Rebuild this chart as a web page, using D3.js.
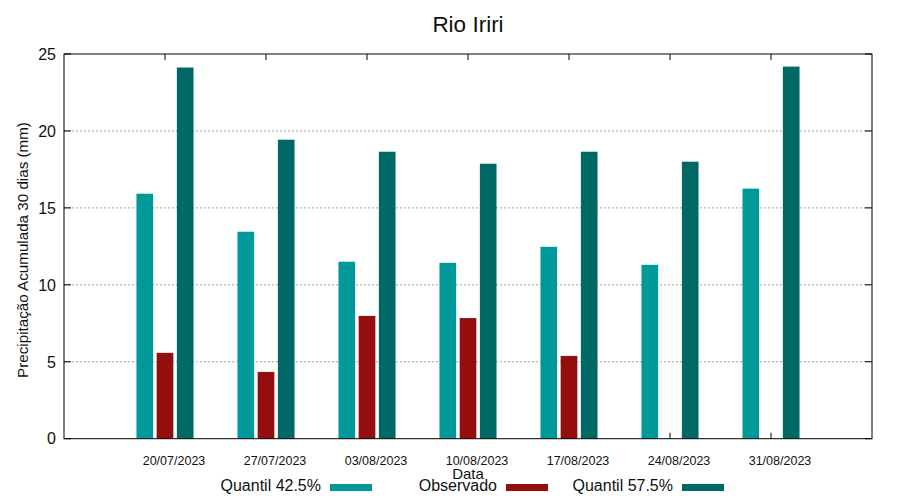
<!DOCTYPE html>
<html>
<head>
<meta charset="utf-8">
<script src="https://cdn.jsdelivr.net/npm/d3@7"></script>
<style>
  body { margin: 0; background: #fff; }
  svg { font-family: "Liberation Sans", Arial, sans-serif; }
</style>
</head>
<body>
<svg id="chart" width="900" height="500"></svg>
<script>
const categories = ["20/07/2023", "27/07/2023", "03/08/2023", "10/08/2023", "17/08/2023", "24/08/2023", "31/08/2023"];
const quantil425 = [15.92, 13.45, 11.5, 11.43, 12.47, 11.3, 16.25];
const observado = [5.58, 4.34, 7.98, 7.84, 5.38, null, null];
const quantil575 = [24.12, 19.43, 18.65, 17.87, 18.65, 18.0, 24.18];
const seriesNames = ["Quantil 42.5%", "Observado", "Quantil 57.5%"];
const seriesColors = ["#009999", "#940e0e", "#006966"];
const yTicks = [0, 5, 10, 15, 20, 25];

const svg = d3.select("#chart");
const m = { left: 64, right: 872, top: 54, bottom: 438.7 };

const x = d3.scaleLinear().domain([0, categories.length + 1]).range([m.left, m.right]);
const y = d3.scaleLinear().domain([0, 25]).range([m.bottom, m.top]);

const step = x(1) - x(0);
const barW = step * 0.165;
const offsets = [-0.2, 0, 0.2];

// Grid lines
svg.append("g").selectAll("line")
  .data(yTicks.filter(t => t > 0 && t < 25))
  .join("line")
  .attr("x1", m.left).attr("x2", m.right)
  .attr("y1", d => y(d)).attr("y2", d => y(d))
  .attr("stroke", "#a0a0a0").attr("stroke-width", 1)
  .attr("stroke-dasharray", "2,2");

// Ticks (inward, mirrored)
const tickG = svg.append("g").attr("stroke", "#000").attr("stroke-width", 1);
yTicks.forEach(t => {
  tickG.append("line").attr("x1", m.left).attr("x2", m.left + 7).attr("y1", y(t)).attr("y2", y(t));
  tickG.append("line").attr("x1", m.right).attr("x2", m.right - 7).attr("y1", y(t)).attr("y2", y(t));
});
categories.forEach((c, i) => {
  tickG.append("line").attr("x1", x(i + 1)).attr("x2", x(i + 1)).attr("y1", m.bottom).attr("y2", m.bottom - 6);
  tickG.append("line").attr("x1", x(i + 1)).attr("x2", x(i + 1)).attr("y1", m.top).attr("y2", m.top + 6);
});

// Bars
const allSeries = [quantil425, observado, quantil575];
allSeries.forEach((vals, s) => {
  svg.append("g").selectAll("rect")
    .data(vals.map((v, i) => ({ v, i })).filter(d => d.v !== null))
    .join("rect")
    .attr("x", d => x(d.i + 1 + offsets[s]) - barW / 2)
    .attr("width", barW)
    .attr("y", d => y(d.v))
    .attr("height", d => y(0) - y(d.v))
    .attr("fill", seriesColors[s]);
});

// Frame
svg.append("rect")
  .attr("x", m.left).attr("y", m.top)
  .attr("width", m.right - m.left).attr("height", m.bottom - m.top)
  .attr("fill", "none").attr("stroke", "#000").attr("stroke-width", 1);

// Y tick labels
svg.append("g").selectAll("text")
  .data(yTicks).join("text")
  .attr("x", 56).attr("y", d => y(d))
  .attr("dy", "0.36em")
  .attr("text-anchor", "end")
  .attr("font-size", 16)
  .attr("fill", "#111")
  .text(d => d);

// X tick labels (shifted right of the tick, as in the reference)
svg.append("g").selectAll("text")
  .data(categories).join("text")
  .attr("x", (d, i) => x(i + 1) + 9).attr("y", 465)
  .attr("text-anchor", "middle")
  .attr("font-size", 12.5)
  .attr("fill", "#111")
  .text(d => d);

// Axis titles
svg.append("text")
  .attr("x", x((categories.length + 1) / 2)).attr("y", 479)
  .attr("text-anchor", "middle").attr("font-size", 15).attr("fill", "#111")
  .text("Data");

svg.append("text")
  .attr("transform", `translate(28, 250) rotate(-90)`)
  .attr("text-anchor", "middle").attr("font-size", 15.2).attr("fill", "#111")
  .text("Precipitação Acumulada 30 dias (mm)");

// Title
svg.append("text")
  .attr("x", (m.left + m.right) / 2).attr("y", 32)
  .attr("text-anchor", "middle").attr("font-size", 22.5).attr("fill", "#111")
  .text("Rio Iriri");

// Legend
const legendTextEnd = [321, 497, 673];
const legend = svg.append("g");
seriesNames.forEach((n, s) => {
  legend.append("text")
    .attr("x", legendTextEnd[s]).attr("y", 491)
    .attr("text-anchor", "end").attr("font-size", 16).attr("fill", "#111")
    .text(n);
  legend.append("rect")
    .attr("x", legendTextEnd[s] + 9).attr("y", 484)
    .attr("width", 42).attr("height", 7)
    .attr("fill", seriesColors[s]);
});
</script>
</body>
</html>
